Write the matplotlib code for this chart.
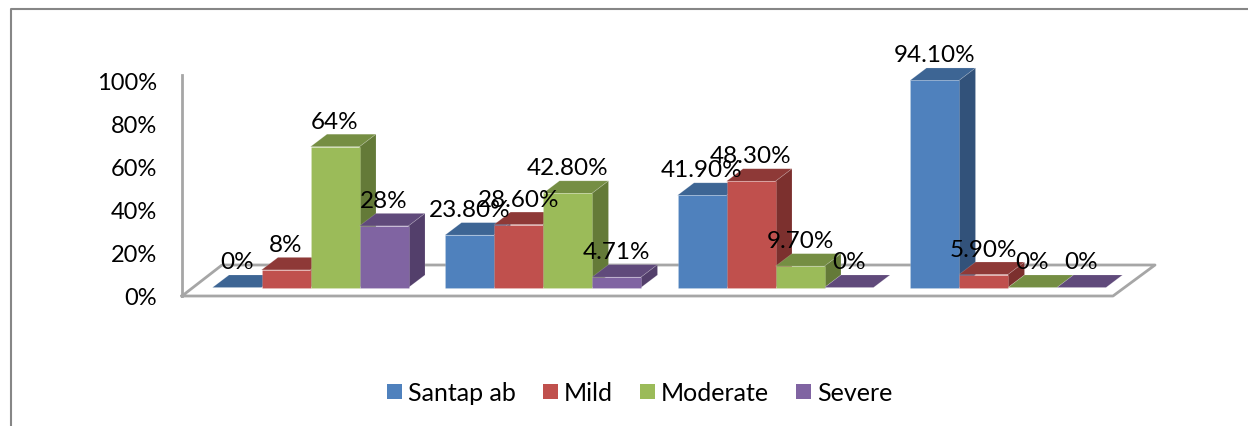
import matplotlib
matplotlib.use('Agg')
import matplotlib.pyplot as plt
from matplotlib.patches import Polygon, Rectangle

plt.rcParams['font.family'] = ['Lato', 'DejaVu Sans']

series = ['Santap ab', 'Mild', 'Moderate', 'Severe']
santap = [0, 23.8, 41.9, 94.1]
mild = [8, 28.6, 48.3, 5.9]
moderate = [64, 42.8, 9.7, 0]
severe = [28, 4.71, 0, 0]
santap_labels = ['0%', '23.80%', '41.90%', '94.10%']
mild_labels = ['8%', '28.60%', '48.30%', '5.90%']
moderate_labels = ['64%', '42.80%', '9.70%', '0%']
severe_labels = ['28%', '4.71%', '0%', '0%']
y_ticks = [0, 20, 40, 60, 80, 100]

front = ['#4F81BD', '#C0504D', '#9BBB59', '#8064A2']
top = ['#3D6594', '#8E3937', '#758E43', '#604A7B']
side = ['#32527A', '#7C302E', '#647A38', '#533F6B']

W, H = 1248, 427
X0, Y0 = 310.5, 288.5   # pixel of first group centre / baseline
GROUP = 232.5           # px per group
PCT = 2.2               # px per percent


def px(x):
    return (x - X0) / GROUP


def py(y):
    return (Y0 - y) / PCT


fig = plt.figure(figsize=(W / 100, H / 100), dpi=100)
ax = fig.add_axes([0, 0, 1, 1])
ax.set_xlim(px(0), px(W))
ax.set_ylim(py(H), py(0))
ax.axis('off')

bar_w = 49 / GROUP
dx = 16.5 / GROUP
dy = 12.5 / PCT
halo = (1, 1, 1, 0.2)

# outer frame, cut off at the bottom and right
ax.plot([px(11), px(11), px(W)], [py(H), py(9.5), py(9.5)], color='#868686', lw=1.5, zorder=1)

# floor and left wall
grey = '#A6A6A6'
ax.plot([px(182), px(182)], [py(76), py(297)], color=grey, lw=2, zorder=1)
ax.plot([px(182), px(222), px(1155), px(1113), px(182)],
        [py(297), py(266), py(266), py(297), py(297)], color=grey, lw=2, zorder=1)

for v in y_ticks:
    ax.text(px(157), py(298.5) + v * 215 / 220, f'{v}%', ha='right', va='center', fontsize=17, color='black')

all_vals = [santap, mild, moderate, severe]
all_labels = [santap_labels, mild_labels, moderate_labels, severe_labels]

z = 2
for g in range(4):
    for s in range(4):
        val = all_vals[s][g]
        left = g + (s - 2) * bar_w
        ax.add_patch(Polygon([(left, val), (left + dx, val + dy), (left + bar_w + dx, val + dy), (left + bar_w, val)],
                             facecolor=top[s], edgecolor=halo, lw=0.5, zorder=z))
        if val > 0:
            ax.add_patch(Polygon([(left + bar_w, 0), (left + bar_w + dx, dy), (left + bar_w + dx, val + dy),
                                  (left + bar_w, val)], facecolor=side[s], edgecolor=halo, lw=0.5, zorder=z))
            ax.bar(left, val, bar_w, align='edge', color=front[s], edgecolor=halo, lw=0.5, zorder=z + 0.5)
        z += 1

for g in range(4):
    for s in range(4):
        ax.text(g + (s - 2) * bar_w + bar_w / 2, all_vals[s][g] + 25.5 / PCT, all_labels[s][g],
                ha='center', va='center', fontsize=17.5, color='black', zorder=50)

# legend
marker_x = [387, 543, 640, 796]
for s, name in enumerate(series):
    ax.add_patch(Rectangle((px(marker_x[s]), py(400)), 15 / GROUP, 15 / PCT, facecolor=front[s], edgecolor='none'))
    ax.text(px(marker_x[s] + 21), py(394), name, ha='left', va='center', fontsize=18, color='black')

fig.savefig('out.png', dpi=100)
